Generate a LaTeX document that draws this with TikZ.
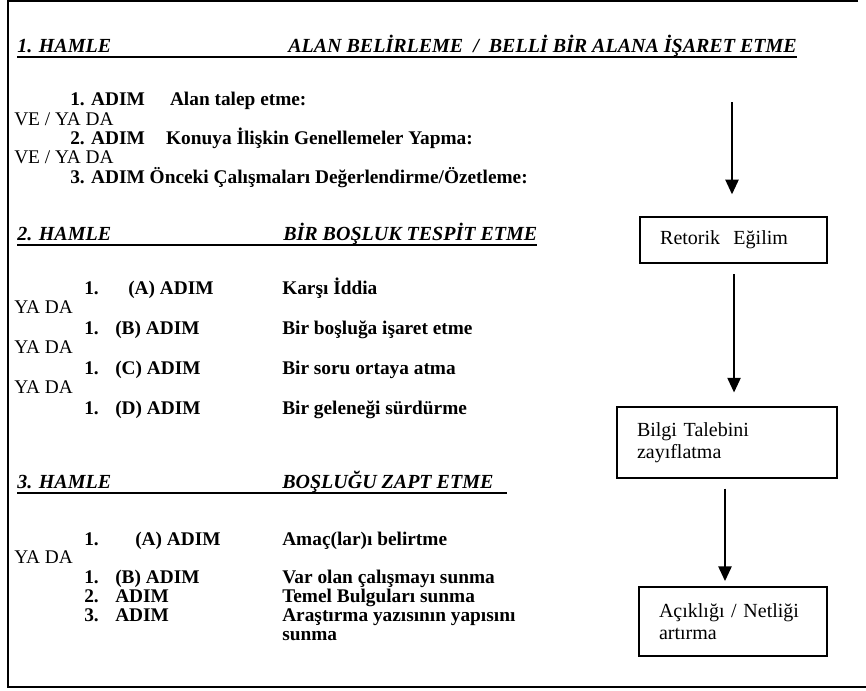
\documentclass[tikz,border=0pt]{standalone}
\usepackage{fontspec}
\setmainfont{Liberation Serif}
\usetikzlibrary{arrows.meta}
\begin{document}
\begin{tikzpicture}[x=0.75pt,y=-0.75pt,
  txt/.style={anchor=base west,inner sep=0pt,font=\fontsize{14.5}{17}\selectfont},
  btxt/.style={anchor=base west,inner sep=0pt,font=\fontsize{14.5}{17}\selectfont\bfseries},
  htxt/.style={anchor=base west,inner sep=0pt,font=\fontsize{15}{17}\selectfont\bfseries\itshape},
  uline/.style={line width=1.5pt},
  framel/.style={line width=1.8pt},
  boxst/.style={draw,line width=1.1pt,inner xsep=15pt,inner ysep=0pt,align=left,
    font=\fontsize{15}{16.5}\selectfont},
  flow/.style={-{Triangle[width=10pt,length=11pt]},line width=1.1pt}]
\useasboundingbox (0,0) rectangle (866,690);
% frame
\coordinate (ftl) at (8,1);
\coordinate (ftr) at (858,1);
\coordinate (fbl) at (8,687);
\coordinate (fbr) at (866,687);
\draw[framel] (ftr) -- (ftl) -- (fbl) -- (fbr);

% 1. HAMLE
\node[htxt] (h1a) at (17,52) {1. HAMLE};
\node[htxt] (h1b) at (288,52) {ALAN BELİRLEME \ / \ BELLİ BİR ALANA İŞARET ETME};
\draw[uline] ([yshift=-4pt]h1a.base west) -- ([yshift=-4pt]h1b.base east);
\node[btxt] (s11) at (70,105) {1. ADIM\hspace{1.3em}Alan talep etme:};
\node[txt] (o11) at (14,125) {VE / YA DA};
\node[btxt] (s12) at (70,144) {2. ADIM\hspace{1.1em}Konuya İlişkin Genellemeler Yapma:};
\node[txt] (o12) at (14,163) {VE / YA DA};
\node[btxt] (s13) at (70,183) {3. ADIM Önceki Çalışmaları Değerlendirme/Özetleme:};

% 2. HAMLE
\node[htxt] (h2a) at (17,240) {2. HAMLE};
\node[htxt] (h2b) at (283,240) {BİR BOŞLUK TESPİT ETME};
\draw[uline] ([yshift=-4pt]h2a.base west) -- ([yshift=-4pt]h2b.base east);
\node[btxt] (n21) at (84,294) {1.};
\node[btxt] (a21) at (128,294) {(A) ADIM};
\node[btxt] (t21) at (282,294) {Karşı İddia};
\node[txt] (o21) at (14,313) {YA DA};
\node[btxt] (n22) at (84,334) {1.};
\node[btxt] (a22) at (115,334) {(B) ADIM};
\node[btxt] (t22) at (282,334) {Bir boşluğa işaret etme};
\node[txt] (o22) at (14,353) {YA DA};
\node[btxt] (n23) at (84,374) {1.};
\node[btxt] (a23) at (115,374) {(C) ADIM};
\node[btxt] (t23) at (282,374) {Bir soru ortaya atma};
\node[txt] (o23) at (14,393) {YA DA};
\node[btxt] (n24) at (84,414) {1.};
\node[btxt] (a24) at (115,414) {(D) ADIM};
\node[btxt] (t24) at (282,414) {Bir geleneği sürdürme};

% 3. HAMLE
\node[htxt] (h3a) at (17,488) {3. HAMLE};
\node[htxt] (h3b) at (282,488) {BOŞLUĞU ZAPT ETME};
\draw[uline] ([yshift=-4pt]h3a.base west) -- ([yshift=-4pt,xshift=10pt]h3b.base east);
\node[btxt] (n31) at (84,545) {1.};
\node[btxt] (a31) at (135,545) {(A) ADIM};
\node[btxt] (t31) at (282,545) {Amaç(lar)ı belirtme};
\node[txt] (o31) at (14,563) {YA DA};
\node[btxt] (n32) at (84,583) {1.};
\node[btxt] (a32) at (115,583) {(B) ADIM};
\node[btxt] (t32) at (282,583) {Var olan çalışmayı sunma};
\node[btxt] (n33) at (84,602) {2.};
\node[btxt] (a33) at (115,602) {ADIM};
\node[btxt] (t33) at (282,602) {Temel Bulguları sunma};
\node[btxt] (n34) at (84,621) {3.};
\node[btxt] (a34) at (115,621) {ADIM};
\node[btxt] (t34) at (282,621) {Araştırma yazısının yapısını};
\node[btxt] (t35) at (282,640) {sunma};

% right column
\node[boxst,text width=110pt,minimum height=34.5pt] (ret) at (733.5,240) {Retorik \ Eğilim};
\node[boxst,text width=135pt,minimum height=53pt] (bil) at (727,442.5) {Bilgi Talebini\\zayıflatma};
\node[boxst,text width=111pt,minimum height=52pt] (aci) at (733,621.5) {Açıklığı / Netliği\\artırma};
\coordinate (a0) at (732,102);
\draw[flow,shorten >=16.5pt] (a0) -- (a0 |- ret.north);
\draw[flow,shorten <=8pt,shorten >=10.5pt] ([xshift=0.4pt]ret.south) -- ([xshift=0.4pt]ret.south |- bil.north);
\draw[flow,shorten <=7.5pt,shorten >=3.8pt] ([xshift=-1.5pt]bil.south) -- ([xshift=-1.5pt]bil.south |- aci.north);
\end{tikzpicture}
\end{document}
